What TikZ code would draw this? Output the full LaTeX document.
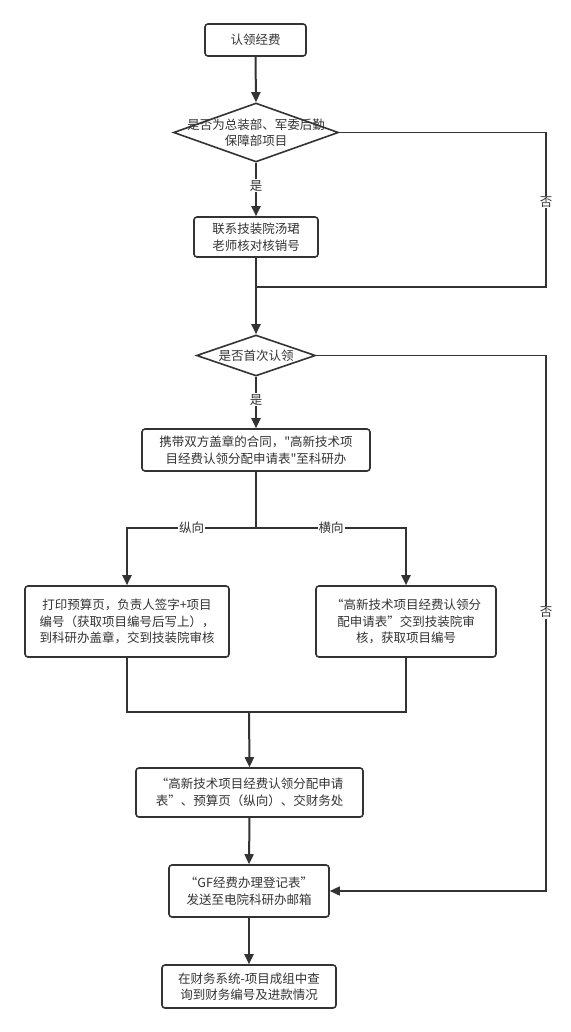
\documentclass[tikz,border=0pt]{standalone}
\usepackage{fontspec}
\setmainfont{Noto Sans CJK SC}[Ligatures=TeXOff]
\usetikzlibrary{arrows.meta,shapes.geometric}
\definecolor{ink}{HTML}{333333}
\tikzset{
  box/.style={draw=ink,line width=1.6pt,rounded corners=3pt,inner sep=0pt,align=center,text=ink,font=\fontsize{12.5}{16.5}\selectfont},
  dia/.style={draw=ink,line width=1.6pt,shape=diamond,inner sep=0pt},
  txt/.style={text=ink,align=center,font=\fontsize{12.5}{16.5}\selectfont},
  conn/.style={draw=ink,line width=2pt,-{Triangle[length=10pt,width=9pt]}},
  line/.style={draw=ink,line width=2pt},
  thin/.style={draw=ink,line width=1.6pt},
  lbl/.style={fill=white,text=ink,inner sep=1pt,font=\fontsize{12.5}{15}\selectfont}
}
\begin{document}
\begin{tikzpicture}[x=1pt,y=-1pt]
\useasboundingbox[fill=white] (0,0) rectangle (570,1032);
\node[box,minimum width=101pt,minimum height=32pt] (b1) at (255.5,40) {认领经费};
\node[dia,minimum width=165pt,minimum height=59pt] (d1) at (256,132.5) {};
\node[txt] (t1) at (256,132.5) {是否为总装部、军委后勤\\保障部项目};
\node[box,minimum width=124pt,minimum height=40pt] (b2) at (256,237) {联系技装院汤珺\\老师核对核销号};
\node[dia,minimum width=119pt,minimum height=41pt] (d2) at (256,355.5) {};
\node[txt] (t2) at (256,355.5) {是否首次认领};
\node[box,minimum width=228pt,minimum height=42pt] (b3) at (256,450) {携带双方盖章的合同，"高新技术项\\目经费认领分配申请表"至科研办};
\node[box,minimum width=204pt,minimum height=71pt] (b4) at (127,621.5) {打印预算页，负责人签字+项目\\编号（获取项目编号后写上），\\到科研办盖章，交到技装院审核};
\node[box,minimum width=180pt,minimum height=71pt] (b5) at (406,621.5) {“高新技术项目经费认领分\\配申请表”交到技装院审\\核，获取项目编号};
\node[box,minimum width=227pt,minimum height=49pt] (b6) at (249.5,792.5) {“高新技术项目经费认领分配申请\\表”、预算页（纵向）、交财务处};
\node[box,minimum width=160pt,minimum height=52pt] (b7) at (249,891) {“GF经费办理登记表”\\发送至电院科研办邮箱};
\node[box,minimum width=174pt,minimum height=43pt] (b8) at (249,986.5) {在财务系统-项目成组中查\\询到财务编号及进款情况};

\coordinate (j1) at (256,287);
\coordinate (r1) at (546,132.5);
\coordinate (r1b) at (546,287);
\coordinate (s) at (256,528);
\coordinate (m) at (249,712);
\coordinate (ml) at (127,712);
\coordinate (mr) at (406,712);
\coordinate (r2) at (546,355.5);
\coordinate (r2b) at (546,891);

\draw[conn] (b1.south) -- (d1.north);
\draw[conn] (d1.south) -- node[lbl,pos=0.43] {是} (b2.north);
\draw[thin] (d1.east) -- (r1) -- node[lbl,pos=0.45] {否} (r1b) -- (j1);
\draw[conn] (b2.south) -- (d2.north);
\draw[conn] (d2.south) -- node[lbl,pos=0.45] {是} (b3.north);
\draw[line] (b3.south) -- (s);
\draw[conn] (s) -| node[lbl,pos=0.25] {纵向} (b4.north);
\draw[conn] (s) -| node[lbl,pos=0.25] {横向} (b5.north);
\draw[line] (b4.south) -- (ml) -- (mr) -- (b5.south);
\draw[conn] (m) -- (b6.north);
\draw[thin,-{Triangle[length=10pt,width=9pt]}] (d2.east) -- (r2) -- node[lbl,pos=0.48] {否} (r2b) -- (b7.east);
\draw[conn] (b6.south) -- (b7.north);
\draw[conn] (b7.south) -- (b8.north);
\end{tikzpicture}
\end{document}
